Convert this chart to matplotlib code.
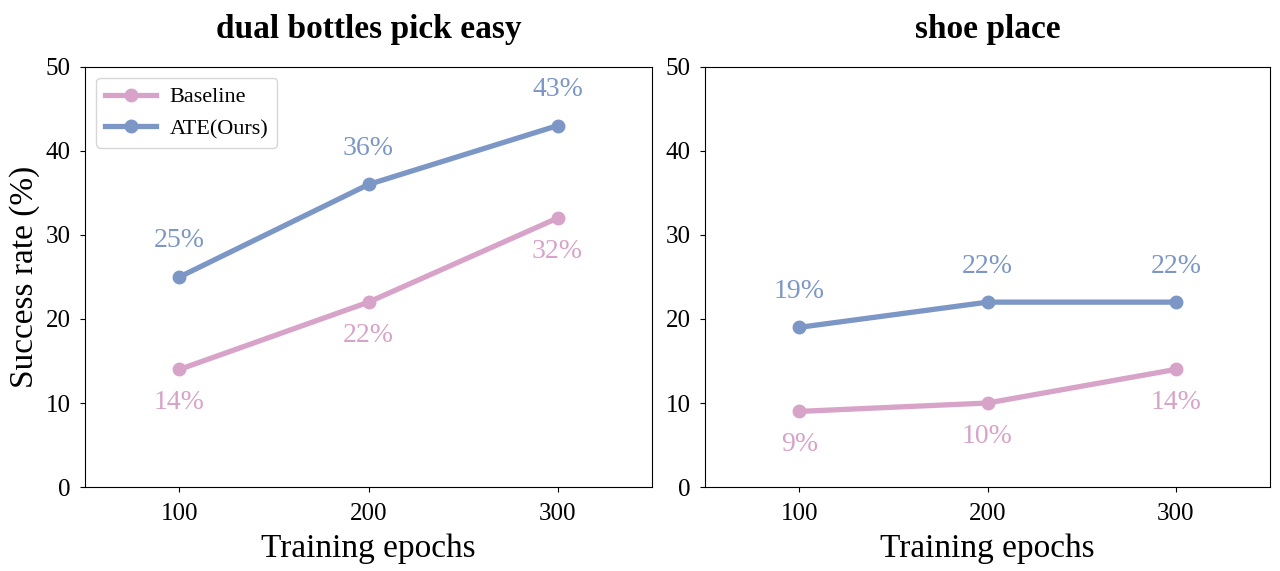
import matplotlib.pyplot as plt

plt.rcParams['font.family'] = ['Liberation Serif', 'DejaVu Serif']

epochs = [100, 200, 300]
titles = ["dual bottles pick easy", "shoe place"]
baseline = [[14, 22, 32], [9, 10, 14]]
ours = [[25, 36, 43], [19, 22, 22]]

pink = "#d8a3c8"
blue = "#7c97c6"

fig = plt.figure(figsize=(12.8, 5.71), dpi=100)
ax1 = fig.add_axes([0.0664, 0.147, 0.4430, 0.736])
ax2 = fig.add_axes([0.5508, 0.147, 0.4414, 0.736])

for i, ax in enumerate([ax1, ax2]):
    ax.plot(epochs, baseline[i], color=pink, lw=3.8, marker="o", ms=9, label="Baseline")
    ax.plot(epochs, ours[i], color=blue, lw=3.8, marker="o", ms=9, label="ATE(Ours)")
    # blue labels above, pink labels below
    for x, y in zip(epochs, ours[i]):
        ax.annotate(f"{y}%", (x, y), xytext=(0, 26), textcoords="offset points",
                    ha="center", va="center", color=blue, fontsize=20)
    for x, y in zip(epochs, baseline[i]):
        ax.annotate(f"{y}%", (x, y), xytext=(0, -24), textcoords="offset points",
                    ha="center", va="center", color=pink, fontsize=20)
    ax.set_xlim(50, 350)
    ax.set_ylim(0, 50)
    ax.set_xticks(epochs)
    ax.set_yticks(range(0, 51, 10))
    ax.tick_params(labelsize=18)
    ax.tick_params(axis="x", pad=8)
    ax.tick_params(axis="y", pad=7)
    ax.set_xlabel("Training epochs", fontsize=24, labelpad=6)
    ax.set_title(titles[i], fontsize=24, fontweight="bold", pad=21)

ax1.set_ylabel("Success rate (%)", fontsize=24, labelpad=4)
ax1.legend(loc="upper left", fontsize=16, handlelength=2.3, handletextpad=0.6)

fig.savefig("out.png", dpi=100)
